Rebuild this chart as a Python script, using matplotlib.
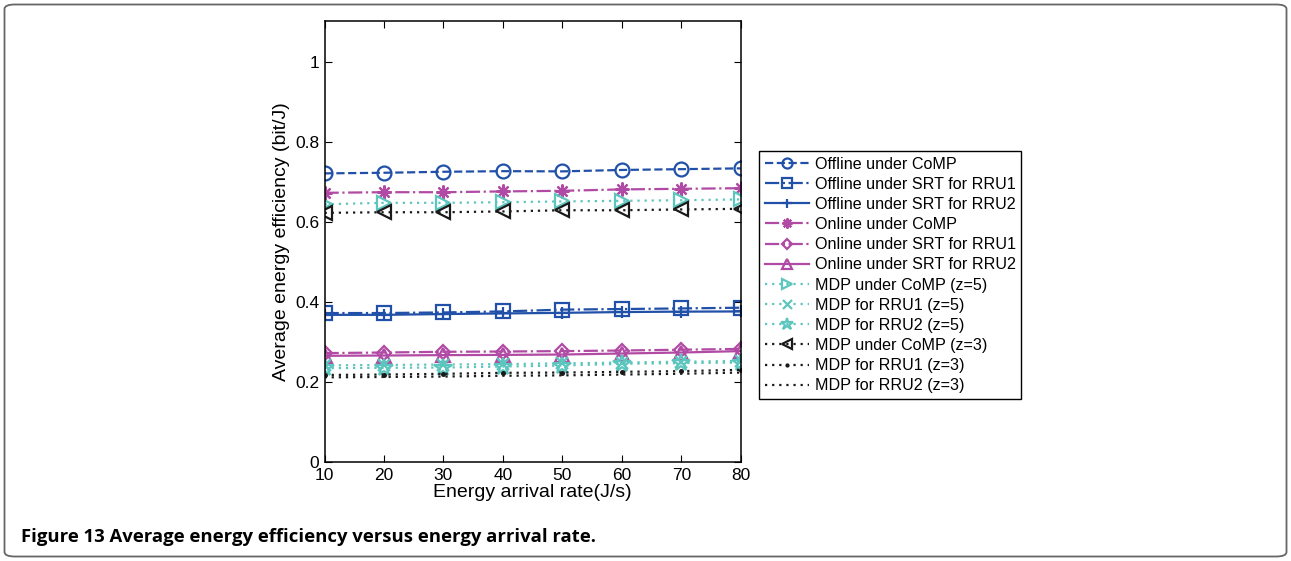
import matplotlib
matplotlib.use('Agg')
import matplotlib.pyplot as plt
from matplotlib.patches import FancyBboxPatch

# energy arrival rate (J/s)
rate = [10, 20, 30, 40, 50, 60, 70, 80]

# average energy efficiency (bit/J)
off_comp = [0.721, 0.7225, 0.725, 0.7265, 0.726, 0.7295, 0.7315, 0.7335]
off_rru1 = [0.3725, 0.3725, 0.374, 0.3765, 0.381, 0.3825, 0.384, 0.3858]
off_rru2 = [0.368, 0.368, 0.370, 0.3715, 0.373, 0.375, 0.376, 0.3765]
on_comp = [0.6725, 0.674, 0.674, 0.676, 0.6775, 0.681, 0.6825, 0.684]
on_rru1 = [0.2725, 0.274, 0.2758, 0.2765, 0.2775, 0.279, 0.281, 0.283]
on_rru2 = [0.2658, 0.2665, 0.2675, 0.268, 0.269, 0.2715, 0.274, 0.2775]
mdp5_comp = [0.644, 0.6475, 0.6475, 0.649, 0.651, 0.6525, 0.654, 0.656]
mdp5_rru1 = [0.242, 0.243, 0.244, 0.245, 0.247, 0.249, 0.251, 0.253]
mdp5_rru2 = [0.235, 0.2358, 0.2365, 0.239, 0.2415, 0.2458, 0.2475, 0.249]
mdp3_comp = [0.6225, 0.624, 0.624, 0.626, 0.629, 0.629, 0.631, 0.6325]
mdp3_rru1 = [0.218, 0.219, 0.2208, 0.2233, 0.224, 0.2258, 0.2275, 0.2308]
mdp3_rru2 = [0.212, 0.213, 0.214, 0.216, 0.217, 0.219, 0.221, 0.224]

labels = ["Offline under CoMP", "Offline under SRT for RRU1", "Offline under SRT for RRU2",
          "Online under CoMP", "Online under SRT for RRU1", "Online under SRT for RRU2",
          "MDP under CoMP (z=5)", "MDP for RRU1 (z=5)", "MDP for RRU2 (z=5)",
          "MDP under CoMP (z=3)", "MDP for RRU1 (z=3)", "MDP for RRU2 (z=3)"]

BLUE = "#2150A8"
MAG = "#B14AA4"
CYAN = "#5CC6BE"
BLK = "#1a1a1a"
DOT = (0, (1, 2.2))

plt.rcParams['font.family'] = ['Liberation Sans', 'DejaVu Sans']

fig = plt.figure(figsize=(12.91, 5.61), dpi=100)
ax = fig.add_axes([0.2514, 0.1759, 0.3224, 0.7858])

series = [
    (off_comp, BLUE, '--', 'o'),
    (off_rru1, BLUE, '-.', 's'),
    (off_rru2, BLUE, '-', '+'),
    (on_comp, MAG, '-.', (8, 2, 0)),
    (on_rru1, MAG, '-.', 'D'),
    (on_rru2, MAG, '-', '^'),
    (mdp5_comp, CYAN, DOT, '>'),
    (mdp5_rru1, CYAN, DOT, 'x'),
    (mdp5_rru2, CYAN, DOT, '*'),
    (mdp3_comp, BLK, DOT, '<'),
    (mdp3_rru1, BLK, DOT, '.'),
    (mdp3_rru2, BLK, DOT, None),
]

for (vals, col, ls, mk), lab in zip(series, labels):
    ms = 10
    if mk == 'D':
        ms = 7.5
    elif mk == '.':
        ms = 4
    elif mk in ('x', '+'):
        ms = 9
    elif mk == '*':
        ms = 13
    ax.plot(rate, vals, color=col, linestyle=ls, linewidth=1.6,
            marker=mk, markersize=ms, markerfacecolor='none' if mk != '.' else col,
            markeredgecolor=col, markeredgewidth=1.6, label=lab)

ax.set_xlim(10, 80)
ax.set_ylim(0, 1.1)
ax.set_xticks(rate)
ax.set_yticks([0, 0.2, 0.4, 0.6, 0.8, 1])
ax.set_yticklabels(["0", "0.2", "0.4", "0.6", "0.8", "1"])
ax.tick_params(direction='in', top=True, right=True, length=5, width=0.8,
               labelsize=12.5, pad=4)
for s in ax.spines.values():
    s.set_linewidth(1.1)
ax.set_xlabel("Energy arrival rate(J/s)", fontsize=14, labelpad=1)
ax.set_ylabel("Average energy efficiency (bit/J)", fontsize=14, labelpad=3.5)

leg = ax.legend(loc='upper left', bbox_to_anchor=(0.588, 0.7308),
                bbox_transform=fig.transFigure, fontsize=11.6, frameon=True,
                fancybox=False, edgecolor='black', framealpha=1,
                handlelength=2.75, handletextpad=0.35, labelspacing=0.32,
                borderpad=0.35, borderaxespad=0, markerscale=0.72)
leg.get_frame().set_linewidth(1.0)

# outer rounded frame
frame = FancyBboxPatch((4.5 / 1291, 4.5 / 561), 1 - 9 / 1291, 1 - 9 / 561,
                       boxstyle="round,pad=0,rounding_size=0.008",
                       transform=fig.transFigure, facecolor='none',
                       edgecolor='#666666', linewidth=1.3)
fig.patches.append(frame)

fig.text(21 / 1291, 1 - 542 / 561, "Figure 13 Average energy efficiency versus energy arrival rate.",
         fontsize=13.3, fontweight='bold', family=['Open Sans', 'DejaVu Sans'],
         ha='left', va='baseline')

fig.savefig("out.png", dpi=100)
